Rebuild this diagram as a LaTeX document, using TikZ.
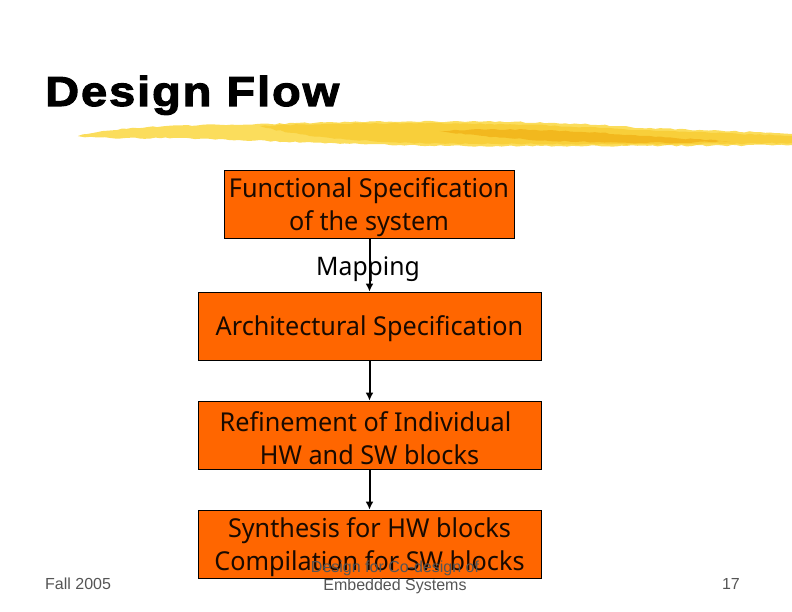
\documentclass[tikz,border=0pt]{standalone}
\usepackage{fontspec}
\setmainfont{Noto Sans}[FakeStretch=0.97]
\newfontfamily\arialfont{Liberation Sans}
\newfontfamily\titlefont{Liberation Sans Bold}[FakeBold=2.5, FakeStretch=1.12, LetterSpace=4.5]
\usepackage{tikz}
\usetikzlibrary{arrows.meta, positioning, decorations.pathmorphing}
\definecolor{boxorange}{HTML}{FF6600}
\definecolor{brushlight}{HTML}{FBDD5C}
\definecolor{brushmid}{HTML}{F8CF3A}
\definecolor{brushdark}{HTML}{F2B81E}
\definecolor{footgray}{HTML}{555555}

\begin{document}
\begin{tikzpicture}[
      x=1pt, y=-1pt,
      flowbox/.style={draw=black, fill=boxorange, line width=0.8pt, inner sep=0pt, minimum height=68pt},
      flowlabel/.style={align=center, font=\fontsize{26}{32.5}\selectfont, inner sep=0pt, yshift=-3pt, text=black!90!boxorange},
      flowarrow/.style={draw=black, line width=2pt, -{Latex[length=8pt,width=8pt]}},
      footer/.style={font=\arialfont\fontsize{16}{18}\selectfont, align=center, text=footgray, inner sep=0pt},
      brush/.style={decorate, decoration={random steps, segment length=5pt, amplitude=0.7pt}}
    ]
      \useasboundingbox (0,0) rectangle (792,612);

      % Title
      \node[font=\titlefont\fontsize{42}{42}\selectfont, anchor=base west, inner sep=0pt] (title) at (45,106) {Design Flow};

      % Brush stroke below the title
      \fill[brushlight, brush] (78,136) .. controls (110,127) and (180,125) .. (270,124) .. controls (400,120) and (560,120) .. (640,128) .. controls (700,130) and (760,132) .. (792,134) -- (792,145) .. controls (700,146) and (600,146) .. (480,146) .. controls (380,146) and (250,140) .. (180,138) .. controls (140,138) and (100,139) .. (78,136) -- cycle;
      \fill[brushmid, brush] (260,126) .. controls (340,122) and (500,122) .. (600,128) .. controls (680,132) and (750,134) .. (792,136) -- (792,143) .. controls (680,145) and (560,144) .. (470,144) .. controls (390,144) and (300,138) .. (260,126) -- cycle;
      \fill[brushdark, brush] (440,131) .. controls (500,128) and (580,130) .. (640,136) .. controls (680,138) and (700,140) .. (730,141) .. controls (660,145) and (520,143) .. (440,131) -- cycle;

      % Flow boxes
      \node[flowbox, minimum width=290pt, label={[flowlabel]center:{Functional Specification\\of the system}}] (func) at (369,204) {};
      \node[flowbox, minimum width=343pt, label={[flowlabel]center:{Architectural Specification}}] (arch) at (369.5,326) {};
      \node[flowbox, minimum width=343pt, label={[flowlabel]center:{Refinement of Individual\hspace*{8pt}\\HW and SW blocks}}] (refine) at (369.5,435) {};
      \node[flowbox, minimum width=343pt, label={[flowlabel]center:{Synthesis for HW blocks\\Compilation for SW blocks}}] (synth) at (369.5,544) {};

      % Arrows
      \draw[flowarrow] (func.south -| arch.south) -- (arch.north);
      \draw[flowarrow] (arch) -- (refine);
      \draw[flowarrow] (refine) -- (synth);
      \node[font=\fontsize{25.5}{30}\selectfont, inner sep=0pt] (mapping) at (368,269) {Mapping};

      % Footer
      \node[footer, anchor=base west] (date) at (45,589) {Fall 2005};
      \node[footer] (course) at (395,577) {Design for Co-design of\\Embedded Systems};
      \node[footer, anchor=base east] (page) at (740,589) {17};
    \end{tikzpicture}
\end{document}
